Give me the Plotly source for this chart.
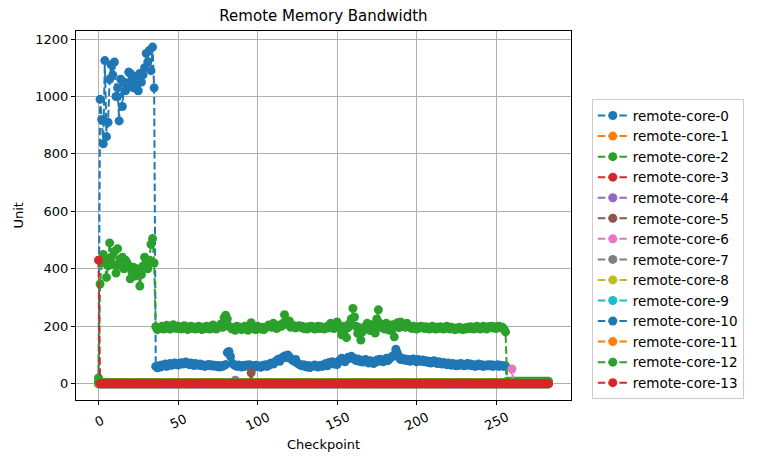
import plotly.graph_objects as go

TITLE = "Remote Memory Bandwidth"
X_LABEL = "Checkpoint"
Y_LABEL = "Unit"
X_TICKS = [0, 50, 100, 150, 200, 250]
Y_TICKS = [0, 200, 400, 600, 800, 1000, 1200]

SERIES_NAMES = ["remote-core-%d" % i for i in range(14)]
COLORS = ["#1f77b4", "#ff7f0e", "#2ca02c", "#d62728", "#9467bd", "#8c564b",
          "#e377c2", "#7f7f7f", "#bcbd22", "#17becf", "#1f77b4", "#ff7f0e",
          "#2ca02c", "#d62728"]

CORE_0 = [
    0,
    990, 920, 835, 1125, 860, 910, 1060, 1110, 1075, 1120, 1000, 1030, 915, 1060, 965, 1050, 1020, 1040, 1085, 1080,
    1060, 1030, 1070, 1040, 1020, 1080, 1050, 1075, 1100, 1150, 1120, 1160, 1090, 1172, 1030,
    60, 55, 62, 58, 65, 63, 68, 60, 66, 70, 64, 67, 72, 69, 65,
    70, 73, 68, 72, 75, 70, 66, 72, 68, 63, 70, 67, 64, 68, 62,
    65, 60, 63, 67, 62, 66, 61, 64, 60, 63, 58, 62, 60, 64, 66,
    108, 112, 95, 72, 66, 63, 60, 65, 62, 58, 63, 60, 65, 62, 66,
    63, 60, 58, 64, 62, 60, 57, 63, 61, 66, 60, 64, 70, 72, 68,
    75, 80, 85, 78, 88, 92, 96, 90, 100, 94, 86, 82, 78, 84, 72,
    68, 65, 62, 66, 60, 58, 63, 56, 60, 62, 65, 60, 58, 62, 64,
    60, 66, 70, 62, 74, 70, 76, 68, 72, 66, 78, 82, 88, 80, 76,
    84, 92, 88, 95, 90, 85, 80, 86, 78, 82, 75, 80, 84, 78, 72,
    80, 76, 70, 74, 82, 78, 85, 80, 76, 82, 88, 80, 86, 92, 96,
    100, 120, 106, 90, 84, 88, 82, 86, 80, 84, 78, 82, 86, 80, 76,
    84, 80, 78, 82, 76, 80, 74, 78, 72, 76, 80, 74, 70, 76, 72,
    68, 74, 70, 66, 72, 68, 64, 70, 66, 62, 68, 64, 70, 66, 62,
    66, 70, 64, 68, 62, 66, 60, 64, 68, 62, 66, 60, 64, 62, 66,
    62, 66, 60, 64, 62, 66, 60, 64, 62, 60, 62,
    1, 1, 1, 1, 1, 1, 1, 1, 1, 1, 1, 1, 1, 1, 1, 1, 1, 1, 1, 1,
    1, 1, 1, 1, 1, 1, 1,
]

CORE_1 = [
    3, 3, 3, 3, 3, 3, 3, 3, 3, 3, 3, 3, 3, 3, 3, 3, 3, 3, 3, 3,
    3, 3, 3, 3, 3, 3, 3, 3, 3, 3, 3, 3, 3, 3, 3, 3, 3, 3, 3, 3,
    3, 3, 3, 3, 3, 3, 3, 3, 3, 3, 3, 3, 3, 3, 3, 3, 3, 3, 3, 3,
    3, 3, 3, 3, 3, 3, 3, 3, 3, 3, 3, 3, 3, 3, 3, 3, 3, 3, 3, 3,
    3, 3, 3, 3, 3, 3, 3, 3, 3, 3, 3, 3, 3, 3, 3, 3, 3, 3, 3, 3,
    3, 3, 3, 3, 3, 3, 3, 3, 3, 3, 3, 3, 3, 3, 3, 3, 3, 3, 3, 3,
    3, 3, 3, 3, 3, 3, 3, 3, 3, 3, 3, 3, 3, 3, 3, 3, 3, 3, 3, 3,
    3, 3, 3, 3, 3, 3, 3, 3, 3, 3, 3, 3, 3, 3, 3, 3, 3, 3, 3, 3,
    3, 3, 3, 3, 3, 3, 3, 3, 3, 3, 3, 3, 3, 3, 3, 3, 3, 3, 3, 3,
    3, 3, 3, 3, 3, 3, 3, 3, 3, 3, 3, 3, 3, 3, 3, 3, 3, 3, 3, 3,
    3, 3, 3, 3, 3, 3, 3, 3, 3, 3, 3, 3, 3, 3, 3, 3, 3, 3, 3, 3,
    3, 3, 3, 3, 3, 3, 3, 3, 3, 3, 3, 3, 3, 3, 3, 3, 3, 3, 3, 3,
    3, 3, 3, 3, 3, 3, 3, 3, 3, 3, 3, 3, 3, 3, 3, 3, 3, 3, 3, 3,
    3, 3, 3, 3, 3, 3, 3, 3, 3, 3, 3, 3, 3, 3, 3, 3, 3, 3, 3, 3,
    3, 3, 3, 3,
]

CORE_2 = [
    20,
    347, 420, 450, 430, 370, 410, 490, 440, 415, 460, 385, 470, 420, 410, 440, 400, 430, 420, 410, 365,
    390, 405, 375, 400, 395, 340, 380, 410, 440, 420, 400, 430, 485, 505, 420,
    198, 188, 195, 192, 200, 190, 196, 203, 194, 190, 198, 205, 196, 192, 200,
    195, 190, 198, 202, 194, 188, 196, 200, 192, 197, 190, 195, 200, 193, 188,
    196, 192, 200, 195, 190, 198, 204, 196, 190, 194, 200, 208, 196, 230, 238,
    225, 200, 196, 190, 194, 186, 200, 192, 196, 188, 194, 200, 190, 186, 196,
    212, 196, 190, 188, 200, 195, 190, 196, 188, 194, 198, 204, 200, 196, 210,
    198, 192, 196, 204, 200, 210, 240, 220, 205, 218, 196, 204, 200, 194, 198,
    202, 196, 200, 192, 196, 190, 198, 194, 200, 196, 190, 196, 200, 192, 198,
    194, 190, 196, 200, 194, 210, 198, 192, 196, 215, 205, 190, 170, 185, 200,
    160, 195, 210, 225, 262, 232, 200, 175, 195, 152, 180, 195, 200, 210, 190,
    185, 205, 195, 176, 225, 257, 210, 195, 200, 190, 210, 195, 186, 200, 205,
    163, 205, 212, 195, 215, 205, 200, 196, 210, 200, 196, 192, 200, 196, 190,
    198, 194, 200, 196, 192, 198, 194, 190, 196, 200, 194, 190, 196, 192, 198,
    194, 190, 196, 200, 194, 190, 196, 192, 188, 194, 190, 196, 192, 188, 194,
    190, 196, 192, 198, 194, 190, 196, 200, 194, 190, 196, 200, 194, 190, 198,
    196, 200, 194, 198, 192, 196, 200, 194, 196, 190, 180,
    8, 8, 8, 8, 8, 8, 8, 8, 8, 8, 8, 8, 8, 8, 8, 8, 8, 8, 8, 8,
    8, 8, 8, 8, 8, 8, 8,
]

CORE_3 = [
    0, 0, 0, 0, 0, 0, 0, 0, 0, 0, 0, 0, 0, 0, 0, 0, 0, 0, 0, 0,
    0, 0, 0, 0, 0, 0, 0, 0, 0, 0, 0, 0, 0, 0, 0, 0, 0, 0, 0, 0,
    0, 0, 0, 0, 0, 0, 0, 0, 0, 0, 0, 0, 0, 0, 0, 0, 0, 0, 0, 0,
    0, 0, 0, 0, 0, 0, 0, 0, 0, 0, 0, 0, 0, 0, 0, 0, 0, 0, 0, 0,
    0, 0, 0, 0, 0, 0, 0, 0, 0, 0, 0, 0, 0, 0, 0, 0, 0, 0, 0, 0,
    0, 0, 0, 0, 0, 0, 0, 0, 0, 0, 0, 0, 0, 0, 0, 0, 0, 0, 0, 0,
    0, 0, 0, 0, 0, 0, 0, 0, 0, 0, 0, 0, 0, 0, 0, 0, 0, 0, 0, 0,
    0, 0, 0, 0, 0, 0, 0, 0, 0, 0, 0, 0, 0, 0, 0, 0, 0, 0, 0, 0,
    0, 0, 0, 0, 0, 0, 0, 0, 0, 0, 0, 0, 0, 0, 0, 0, 0, 0, 0, 0,
    0, 0, 0, 0, 0, 0, 0, 0, 0, 0, 0, 0, 0, 0, 0, 0, 0, 0, 0, 0,
    0, 0, 0, 0, 0, 0, 0, 0, 0, 0, 0, 0, 0, 0, 0, 0, 0, 0, 0, 0,
    0, 0, 0, 0, 0, 0, 0, 0, 0, 0, 0, 0, 0, 0, 0, 0, 0, 0, 0, 0,
    0, 0, 0, 0, 0, 0, 0, 0, 0, 0, 0, 0, 0, 0, 0, 0, 0, 0, 0, 0,
    0, 0, 0, 0, 0, 0, 0, 0, 0, 0, 0, 0, 0, 0, 0, 0, 0, 0, 0, 0,
    0, 0, 0, 0,
]

CORE_4 = [
    0, 0, 0, 0, 0, 0, 0, 0, 0, 0, 0, 0, 0, 0, 0, 0, 0, 0, 0, 0,
    0, 0, 0, 0, 0, 0, 0, 0, 0, 0, 0, 0, 0, 0, 0, 0, 0, 0, 0, 0,
    0, 0, 0, 0, 0, 0, 0, 0, 0, 0, 0, 0, 0, 0, 0, 0, 0, 0, 0, 0,
    0, 0, 0, 0, 0, 0, 0, 0, 0, 0, 0, 0, 0, 0, 0, 0, 0, 0, 0, 0,
    0, 0, 0, 0, 0, 0, 12, 0, 0, 0, 0, 0, 0, 0, 0, 0, 0, 0, 0, 0,
    0, 0, 0, 0, 0, 0, 0, 0, 0, 0, 0, 0, 0, 0, 0, 0, 0, 0, 0, 0,
    0, 0, 0, 0, 0, 0, 0, 0, 0, 0, 0, 0, 0, 0, 0, 0, 0, 0, 0, 0,
    0, 0, 0, 0, 0, 0, 0, 0, 0, 0, 0, 0, 0, 0, 0, 0, 0, 0, 0, 0,
    0, 0, 0, 0, 0, 0, 0, 0, 0, 0, 0, 0, 0, 0, 0, 0, 0, 0, 0, 0,
    0, 0, 0, 0, 0, 0, 0, 0, 0, 0, 0, 0, 0, 0, 0, 0, 0, 0, 0, 0,
    0, 0, 0, 0, 0, 0, 0, 0, 0, 0, 0, 0, 0, 0, 0, 0, 0, 0, 0, 0,
    0, 0, 0, 0, 0, 0, 0, 0, 0, 0, 0, 0, 0, 0, 0, 0, 0, 0, 0, 0,
    0, 0, 0, 0, 0, 0, 0, 0, 0, 0, 0, 0, 0, 0, 0, 0, 0, 0, 0, 0,
    0, 0, 0, 0, 0, 0, 0, 0, 0, 0, 0, 0, 0, 0, 0, 0, 0, 0, 0, 0,
    0, 0, 0, 0,
]

CORE_5 = [
    0, 0, 0, 0, 0, 0, 0, 0, 0, 0, 0, 0, 0, 0, 0, 0, 0, 0, 0, 0,
    0, 0, 0, 0, 0, 0, 0, 0, 0, 0, 0, 0, 0, 0, 0, 0, 0, 0, 0, 0,
    0, 0, 0, 0, 0, 0, 0, 0, 0, 0, 0, 0, 0, 0, 0, 0, 0, 0, 0, 0,
    0, 0, 0, 0, 0, 0, 0, 0, 0, 0, 0, 0, 0, 0, 0, 0, 0, 0, 0, 0,
    0, 0, 0, 0, 0, 0, 0, 0, 0, 0, 0, 0, 0, 0, 0, 0, 38, 0, 0, 0,
    0, 0, 0, 0, 0, 0, 0, 0, 0, 0, 0, 0, 0, 0, 0, 0, 0, 0, 0, 0,
    0, 0, 0, 0, 0, 0, 0, 0, 0, 0, 0, 0, 0, 0, 0, 0, 0, 0, 0, 0,
    0, 0, 0, 0, 0, 0, 0, 0, 0, 0, 0, 0, 0, 0, 0, 0, 0, 0, 0, 0,
    0, 0, 0, 0, 0, 0, 0, 0, 0, 0, 0, 0, 0, 0, 0, 0, 0, 0, 0, 0,
    0, 0, 0, 0, 0, 0, 0, 0, 0, 0, 0, 0, 0, 0, 0, 0, 0, 0, 0, 0,
    0, 0, 0, 0, 0, 0, 0, 0, 0, 0, 0, 0, 0, 0, 0, 0, 0, 0, 0, 0,
    0, 0, 0, 0, 0, 0, 0, 0, 0, 0, 0, 0, 0, 0, 0, 0, 0, 0, 0, 0,
    0, 0, 0, 0, 0, 0, 0, 0, 0, 0, 0, 0, 0, 0, 0, 0, 0, 0, 0, 0,
    0, 0, 0, 0, 0, 0, 0, 0, 0, 0, 0, 0, 0, 0, 0, 0, 0, 0, 0, 0,
    0, 0, 0, 0,
]

CORE_6 = [
    0, 0, 0, 0, 0, 0, 0, 0, 0, 0, 0, 0, 0, 0, 0, 0, 0, 0, 0, 0,
    0, 0, 0, 0, 0, 0, 0, 0, 0, 0, 0, 0, 0, 0, 0, 0, 0, 0, 0, 0,
    0, 0, 0, 0, 0, 0, 0, 0, 0, 0, 0, 0, 0, 0, 0, 0, 0, 0, 0, 0,
    0, 0, 0, 0, 0, 0, 0, 0, 0, 0, 0, 0, 0, 0, 0, 0, 0, 0, 0, 0,
    0, 0, 0, 0, 0, 0, 0, 0, 0, 0, 0, 0, 0, 0, 0, 0, 0, 0, 0, 0,
    0, 0, 0, 0, 0, 0, 0, 0, 0, 0, 0, 0, 0, 0, 0, 0, 0, 0, 0, 0,
    0, 0, 0, 0, 0, 0, 0, 0, 0, 0, 0, 0, 0, 0, 0, 0, 0, 0, 0, 0,
    0, 0, 0, 0, 0, 0, 0, 0, 0, 0, 0, 0, 0, 0, 0, 0, 0, 0, 0, 0,
    0, 0, 0, 0, 0, 0, 0, 0, 0, 0, 0, 0, 0, 0, 0, 0, 0, 0, 0, 0,
    0, 0, 0, 0, 0, 0, 0, 0, 0, 0, 0, 0, 0, 0, 0, 0, 0, 0, 0, 0,
    0, 0, 0, 0, 0, 0, 0, 0, 0, 0, 0, 0, 0, 0, 0, 0, 0, 0, 0, 0,
    0, 0, 0, 0, 0, 0, 0, 0, 0, 0, 0, 0, 0, 0, 0, 0, 0, 0, 0, 0,
    0, 0, 0, 0, 0, 0, 0, 0, 0, 0, 0, 0, 0, 0, 0, 0, 0, 0, 0, 0,
    51, 0, 0, 0, 0, 0, 0, 0, 0, 0, 0, 0, 0, 0, 0, 0, 0, 0, 0, 0,
    0, 0, 0, 0,
]

CORE_7 = list(CORE_3)
CORE_8 = list(CORE_3)
CORE_9 = list(CORE_3)
CORE_10 = list(CORE_3)

CORE_11 = [
    1, 1, 1, 1, 1, 1, 1, 1, 1, 1, 1, 1, 1, 1, 1, 1, 1, 1, 1, 1,
    1, 1, 1, 1, 1, 1, 1, 1, 1, 1, 1, 1, 1, 1, 1, 1, 1, 1, 1, 1,
    1, 1, 1, 1, 1, 1, 1, 1, 1, 1, 1, 1, 1, 1, 1, 1, 1, 1, 1, 1,
    1, 1, 1, 1, 1, 1, 1, 1, 1, 1, 1, 1, 1, 1, 1, 1, 1, 1, 1, 1,
    1, 1, 1, 1, 1, 1, 1, 1, 1, 1, 1, 1, 1, 1, 1, 1, 1, 1, 1, 1,
    1, 1, 1, 1, 1, 1, 1, 1, 1, 1, 1, 1, 1, 1, 1, 1, 1, 1, 1, 1,
    1, 1, 1, 1, 1, 1, 1, 1, 1, 1, 1, 1, 1, 1, 1, 1, 1, 1, 1, 1,
    1, 1, 1, 1, 1, 1, 1, 1, 1, 1, 1, 1, 1, 1, 1, 1, 1, 1, 1, 1,
    1, 1, 1, 1, 1, 1, 1, 1, 1, 1, 1, 1, 1, 1, 1, 1, 1, 1, 1, 1,
    1, 1, 1, 1, 1, 1, 1, 1, 1, 1, 1, 1, 1, 1, 1, 1, 1, 1, 1, 1,
    1, 1, 1, 1, 1, 1, 1, 1, 1, 1, 1, 1, 1, 1, 1, 1, 1, 1, 1, 1,
    1, 1, 1, 1, 1, 1, 1, 1, 1, 1, 1, 1, 1, 1, 1, 1, 1, 1, 1, 1,
    1, 1, 1, 1, 1, 1, 1, 1, 1, 1, 1, 1, 1, 1, 1, 1, 1, 1, 1, 1,
    1, 1, 1, 1, 1, 1, 1, 1, 1, 1, 1, 1, 1, 1, 1, 1, 1, 1, 1, 1,
    1, 1, 1, 1,
]

CORE_12 = [
    6, 2, 2, 2, 2, 2, 2, 2, 2, 2, 2, 2, 2, 2, 2, 2, 2, 2, 2, 2,
    2, 2, 2, 2, 2, 2, 2, 2, 2, 2, 2, 2, 2, 2, 2, 2, 2, 2, 2, 2,
    2, 2, 2, 2, 2, 2, 2, 2, 2, 2, 2, 2, 2, 2, 2, 2, 2, 2, 2, 2,
    2, 2, 2, 2, 2, 2, 2, 2, 2, 2, 2, 2, 2, 2, 2, 2, 2, 2, 2, 2,
    2, 2, 2, 2, 2, 2, 2, 2, 2, 2, 2, 2, 2, 2, 2, 2, 2, 2, 2, 2,
    2, 2, 2, 2, 2, 2, 2, 2, 2, 2, 2, 2, 2, 2, 2, 2, 2, 2, 2, 2,
    2, 2, 2, 2, 2, 2, 2, 2, 2, 2, 2, 2, 2, 2, 2, 2, 2, 2, 2, 2,
    2, 2, 2, 2, 2, 2, 2, 2, 2, 2, 2, 2, 2, 2, 2, 2, 2, 2, 2, 2,
    2, 2, 2, 2, 2, 2, 2, 2, 2, 2, 2, 2, 2, 2, 2, 2, 2, 2, 2, 2,
    2, 2, 2, 2, 2, 2, 2, 2, 2, 2, 2, 2, 2, 2, 2, 2, 2, 2, 2, 2,
    2, 2, 2, 2, 2, 2, 2, 2, 2, 2, 2, 2, 2, 2, 2, 2, 2, 2, 2, 2,
    2, 2, 2, 2, 2, 2, 2, 2, 2, 2, 2, 2, 2, 2, 2, 2, 2, 2, 2, 2,
    2, 2, 2, 2, 2, 2, 2, 2, 2, 2, 2, 2, 2, 2, 2, 2, 2, 2, 2, 2,
    2, 2, 2, 2, 2, 2, 2, 2, 2, 2, 2, 2, 2, 2, 2, 2, 2, 2, 2, 2,
    2, 2, 2, 2,
]

CORE_13 = [
    430, 0, 0, 0, 0, 0, 0, 0, 0, 0, 0, 0, 0, 0, 0, 0, 0, 0, 0, 0,
    0, 0, 0, 0, 0, 0, 0, 0, 0, 0, 0, 0, 0, 0, 0, 0, 0, 0, 0, 0,
    0, 0, 0, 0, 0, 0, 0, 0, 0, 0, 0, 0, 0, 0, 0, 0, 0, 0, 0, 0,
    0, 0, 0, 0, 0, 0, 0, 0, 0, 0, 0, 0, 0, 0, 0, 0, 0, 0, 0, 0,
    0, 0, 0, 0, 0, 0, 0, 0, 0, 0, 0, 0, 0, 0, 0, 0, 0, 0, 0, 0,
    0, 0, 0, 0, 0, 0, 0, 0, 0, 0, 0, 0, 0, 0, 0, 0, 0, 0, 0, 0,
    0, 0, 0, 0, 0, 0, 0, 0, 0, 0, 0, 0, 0, 0, 0, 0, 0, 0, 0, 0,
    0, 0, 0, 0, 0, 0, 0, 0, 0, 0, 0, 0, 0, 0, 0, 0, 0, 0, 0, 0,
    0, 0, 0, 0, 0, 0, 0, 0, 0, 0, 0, 0, 0, 0, 0, 0, 0, 0, 0, 0,
    0, 0, 0, 0, 0, 0, 0, 0, 0, 0, 0, 0, 0, 0, 0, 0, 0, 0, 0, 0,
    0, 0, 0, 0, 0, 0, 0, 0, 0, 0, 0, 0, 0, 0, 0, 0, 0, 0, 0, 0,
    0, 0, 0, 0, 0, 0, 0, 0, 0, 0, 0, 0, 0, 0, 0, 0, 0, 0, 0, 0,
    0, 0, 0, 0, 0, 0, 0, 0, 0, 0, 0, 0, 0, 0, 0, 0, 0, 0, 0, 0,
    0, 0, 0, 0, 0, 0, 0, 0, 0, 0, 0, 0, 0, 0, 0, 0, 0, 0, 0, 0,
    0, 0, 0, 0,
]

SERIES = [CORE_0, CORE_1, CORE_2, CORE_3, CORE_4, CORE_5, CORE_6, CORE_7,
          CORE_8, CORE_9, CORE_10, CORE_11, CORE_12, CORE_13]

FONT = "DejaVu Sans"

fig = go.Figure()
for name, color, values in zip(SERIES_NAMES, COLORS, SERIES):
    fig.add_trace(go.Scatter(
        x=list(range(len(values))), y=values, name=name,
        mode="lines+markers",
        line=dict(color=color, width=2, dash="7.5px,3.3px"),
        marker=dict(color=color, size=9),
    ))

annotations = []
for v in X_TICKS:
    annotations.append(dict(
        x=v, xref="x", y=0, yref="paper", text=str(v), showarrow=False,
        textangle=-25, xanchor="center", yanchor="middle", yshift=-21,
        font=dict(family=FONT, size=13, color="black"),
    ))
annotations.append(dict(
    x=0.5, xref="paper", y=0, yref="paper", text=X_LABEL, showarrow=False,
    xanchor="center", yanchor="middle", yshift=-44,
    font=dict(family=FONT, size=13, color="black"),
))
annotations.append(dict(
    x=0, xref="paper", y=0.5, yref="paper", text=Y_LABEL, showarrow=False,
    xanchor="center", yanchor="middle", xshift=-58, textangle=-90,
    font=dict(family=FONT, size=13, color="black"),
))

fig.update_layout(
    width=758, height=463,
    margin=dict(l=67.5, r=195, t=23, b=71, autoexpand=False),
    paper_bgcolor="white", plot_bgcolor="white",
    font=dict(family=FONT, size=13, color="black"),
    title=dict(text=TITLE, x=0.5, xref="paper", xanchor="center",
               y=1 - 8 / 463, yref="container", yanchor="middle",
               automargin=False,
               font=dict(family=FONT, size=15, color="black")),
    xaxis=dict(range=[-14.15, 297.15], tickvals=X_TICKS, showticklabels=False,
               automargin=False,
               ticks="outside", ticklen=4, tickwidth=1, tickcolor="black",
               showgrid=True, gridcolor="#b0b0b0", gridwidth=1,
               showline=True, linecolor="black", linewidth=1, mirror=True,
               zeroline=False),
    yaxis=dict(range=[-57, 1228], tickvals=Y_TICKS, automargin=False,
               ticks="outside", ticklen=4, tickwidth=1, tickcolor="black",
               tickfont=dict(family=FONT, size=13, color="black"),
               showgrid=True, gridcolor="#b0b0b0", gridwidth=1,
               showline=True, linecolor="black", linewidth=1, mirror=True,
               zeroline=False),
    legend=dict(x=1.042, y=0.815, xanchor="left", yanchor="top",
                bgcolor="white", bordercolor="#cccccc", borderwidth=1,
                font=dict(family=FONT, size=13.5, color="black"),
                tracegroupgap=0),
    annotations=annotations,
    showlegend=True,
)

fig.write_html("out.html")
